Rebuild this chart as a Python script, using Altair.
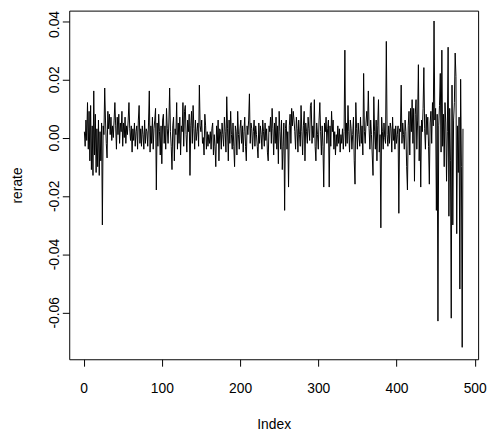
import altair as alt
import pandas as pd

# series values (index 1..485)
rerate = [
    0.002, -0.003, 0.006, -0.001, 0.012, -0.004, 0.009, -0.008, 0.011, -0.011,
    0.004, -0.013, 0.016, -0.006, 0.008, -0.012, 0.003, -0.010, 0.006, -0.013,
    0.002, -0.008, 0.005, -0.030, 0.004, 0.001, 0.017, 0.006, -0.002, -0.007,
    0.009, 0.003, 0.008, 0.001, 0.007, -0.001, 0.004, 0.000, 0.006, 0.012,
    0.004, -0.004, 0.007, 0.001, 0.008, -0.002, 0.005, 0.002, 0.009, -0.003,
    0.005, 0.000, 0.007, -0.002, 0.004, 0.001, 0.006, 0.012, 0.003, -0.001,
    0.004, -0.005, 0.003, -0.001, 0.005, -0.003, 0.002, 0.004, -0.004, 0.006,
    0.011, -0.002, 0.003, -0.003, 0.004, 0.001, -0.004, 0.006, -0.002, 0.003,
    0.002, -0.003, 0.005, 0.016, -0.005, 0.004, -0.002, 0.007, -0.004, 0.003,
    0.006, 0.010, -0.018, 0.005, -0.003, 0.008, 0.002, -0.006, 0.004, -0.009,
    0.006, 0.008, -0.002, 0.004, -0.004, 0.010, 0.003, -0.002, 0.005, 0.017,
    0.002, -0.003, -0.011, 0.004, 0.007, -0.008, 0.003, 0.001, 0.012, -0.004,
    0.005, -0.002, 0.007, -0.006, 0.004, 0.002, 0.012, -0.003, 0.009, 0.011,
    0.001, -0.005, 0.006, 0.002, 0.008, -0.013, 0.004, 0.009, -0.002, 0.011,
    0.003, -0.004, 0.006, -0.001, 0.002, 0.005, -0.003, 0.018, 0.004, 0.002,
    0.006, -0.002, 0.000, -0.006, 0.008, 0.004, -0.004, 0.002, -0.003, 0.001,
    -0.002, 0.002, -0.004, 0.003, 0.005, -0.006, 0.001, -0.003, -0.010, 0.004,
    -0.002, 0.006, -0.008, 0.003, 0.002, -0.004, 0.005, 0.001, -0.003, 0.007,
    0.002, -0.005, 0.014, 0.003, -0.008, 0.006, -0.002, 0.009, 0.001, -0.004,
    0.005, -0.003, -0.010, 0.004, 0.002, -0.006, 0.009, 0.001, -0.004, 0.003,
    0.006, -0.002, 0.004, -0.005, 0.002, 0.007, -0.003, -0.008, 0.004, 0.001,
    0.006, 0.015, -0.002, 0.005, 0.003, -0.004, 0.002, 0.006, -0.003, 0.004,
    0.001, -0.003, -0.007, 0.005, -0.002, 0.004, 0.001, -0.004, 0.006, 0.002,
    -0.003, 0.005, -0.001, 0.003, -0.005, -0.008, 0.004, 0.002, 0.007, -0.002,
    0.010, 0.003, -0.006, 0.005, -0.002, 0.007, -0.004, 0.004, -0.009, 0.009,
    0.002, -0.004, 0.006, -0.011, -0.003, 0.005, -0.025, 0.003, 0.006, -0.004,
    0.002, -0.017, 0.004, 0.008, -0.002, 0.010, 0.004, 0.009, 0.006, 0.002,
    -0.004, 0.007, 0.003, -0.005, 0.006, 0.001, -0.003, 0.011, 0.002, -0.006,
    0.004, 0.009, -0.008, 0.005, 0.002, -0.002, 0.007, 0.003, -0.001, 0.011,
    0.012, -0.002, 0.004, 0.000, 0.013, -0.003, -0.008, 0.005, 0.001, -0.004,
    0.006, 0.012, 0.002, -0.006, 0.004, -0.003, -0.017, 0.005, 0.002, 0.007,
    -0.002, 0.003, 0.006, -0.017, 0.004, -0.003, 0.009, 0.002, 0.006, -0.004,
    0.002, -0.006, 0.001, -0.003, 0.004, -0.002, 0.003, -0.005, 0.001, -0.002,
    0.003, -0.004, 0.002, 0.030, -0.003, 0.005, -0.002, 0.011, 0.002, -0.005,
    0.006, 0.003, -0.004, 0.001, 0.007, -0.008, -0.016, 0.012, 0.003, -0.004,
    0.005, 0.001, -0.003, 0.007, -0.002, 0.004, -0.006, 0.022, 0.002, -0.002,
    0.005, 0.009, 0.004, 0.016, 0.003, -0.004, 0.006, 0.001, -0.006, -0.013,
    0.014, 0.002, -0.004, 0.006, -0.008, 0.004, 0.013, -0.005, 0.001, -0.031,
    0.007, 0.002, -0.004, 0.005, 0.000, -0.002, 0.033, 0.001, -0.003, 0.004,
    -0.002, 0.005, 0.003, -0.005, 0.007, -0.001, 0.003, -0.004, 0.004, -0.002,
    0.001, 0.004, -0.026, 0.003, 0.002, 0.018, -0.002, 0.005, 0.001, -0.004,
    0.006, 0.002, -0.010, -0.018, 0.004, 0.009, -0.006, 0.010, 0.002, 0.013,
    -0.002, 0.010, -0.015, 0.008, 0.013, -0.004, 0.006, 0.025, -0.008, 0.004,
    -0.017, 0.006, 0.002, 0.010, 0.024, 0.003, -0.004, 0.008, 0.001, 0.007,
    -0.003, -0.016, 0.005, 0.009, -0.002, 0.012, 0.004, 0.040, 0.006, 0.010,
    -0.025, 0.008, -0.063, 0.004, 0.011, 0.022, -0.005, 0.030, -0.003, 0.008,
    -0.010, 0.012, 0.005, -0.015, 0.002, 0.031, -0.027, 0.010, -0.008, -0.062,
    0.018, -0.030, 0.006, 0.012, 0.029, 0.021, -0.033, 0.004, -0.012, 0.007,
    -0.052, 0.020, -0.010, -0.072, 0.003,
]
index = list(range(1, len(rerate) + 1))

x_ticks = [0, 100, 200, 300, 400, 500]
y_ticks = [-0.06, -0.04, -0.02, 0.0, 0.02, 0.04]

df = pd.DataFrame({"Index": index, "rerate": rerate})

FONT = "Liberation Sans"

x_axis = alt.Axis(
    values=x_ticks, title="Index", grid=False, domain=False,
    tickSize=7, tickColor="black", tickWidth=1,
    labelFont=FONT, labelFontSize=14, labelColor="black",
    labelBaseline="alphabetic", labelPadding=27, labelFlush=False,
    labelOverlap=False,
    titleFont=FONT, titleFontSize=14, titleFontWeight="normal",
    titleColor="black", titleX=207, titleY=70, titleAlign="center",
    titleBaseline="alphabetic",
)

y_axis = alt.Axis(
    values=y_ticks, title="rerate", grid=False, domain=False,
    tickSize=7, tickColor="black", tickWidth=1,
    labelFont=FONT, labelFontSize=14, labelColor="black",
    labelAngle=270, labelAlign="center", labelBaseline="alphabetic",
    labelPadding=3.5, labelFlush=False, labelOverlap=False,
    labelOffset={"condition": {"test": "datum.value > 0.03", "value": 3}, "value": 0},
    labelExpr="datum.value < 0 ? '-' + format(-datum.value, '.2f') : format(datum.value, '.2f')",
    titleFont=FONT, titleFontSize=14, titleFontWeight="normal",
    titleColor="black", titleAngle=270, titleX=-48, titleY=176.5,
    titleAlign="center", titleBaseline="alphabetic",
)

chart = (
    alt.Chart(df)
    .mark_line(color="black", strokeWidth=1)
    .encode(
        x=alt.X("Index:Q", scale=alt.Scale(domain=[-18.36, 504.36], nice=False, zero=False), axis=x_axis),
        y=alt.Y("rerate:Q", scale=alt.Scale(domain=[-0.0761, 0.04356], nice=False, zero=False), axis=y_axis),
    )
    .properties(
        width=414, height=353,
        autosize=alt.AutoSizeParams(type="none"),
        padding={"left": 62, "top": 0, "right": 10, "bottom": 72},
        background="white",
    )
    .configure_view(stroke="black", strokeWidth=1)
)

chart.save("out.html", embed_options={"renderer": "svg", "actions": False})
